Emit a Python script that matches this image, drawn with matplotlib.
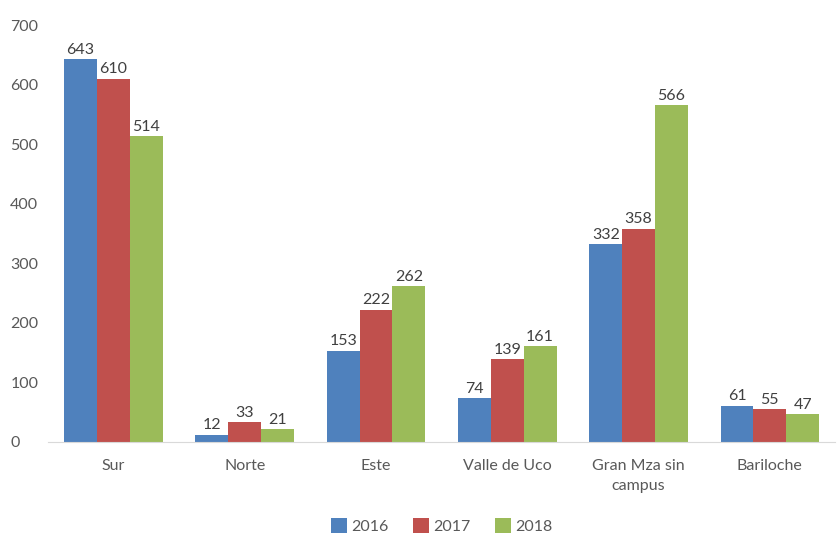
import matplotlib.pyplot as plt
import numpy as np

plt.rcParams['font.family'] = ['Lato', 'DejaVu Sans']

categories = ['Sur', 'Norte', 'Este', 'Valle de Uco', 'Gran Mza sin\ncampus', 'Bariloche']
years = ['2016', '2017', '2018']
v2016 = [643, 12, 153, 74, 332, 61]
v2017 = [610, 33, 222, 139, 358, 55]
v2018 = [514, 21, 262, 161, 566, 47]
colors = ['#4F81BD', '#C0504D', '#9BBB59']

fig = plt.figure(figsize=(8.38, 5.37), dpi=100)
ax = fig.add_axes([0.057, 0.177, 0.94, 0.776])

x = np.arange(len(categories))
w = 0.25
for i, (vals, lab) in enumerate(zip([v2016, v2017, v2018], years)):
    bars = ax.bar(x + (i - 1) * w, vals, w, color=colors[i], label=lab)
    for b, v in zip(bars, vals):
        ax.text(b.get_x() + w / 2, v + 4, str(v), ha='center', va='bottom',
                fontsize=11.5, color='#404040')

ax.set_xlim(-0.5, len(categories) - 0.5)
ax.set_ylim(0, 700)
ax.set_yticks(range(0, 701, 100))
ax.set_xticks(x)
ax.set_xticklabels(categories, fontsize=11.5, color='#595959', linespacing=1.6)
for s in ['top', 'right', 'left']:
    ax.spines[s].set_visible(False)
ax.spines['bottom'].set_color('#d9d9d9')
ax.tick_params(axis='both', length=0, labelsize=11.5, labelcolor='#595959')
ax.tick_params(axis='x', pad=12)
for t in ax.get_yticklabels():
    t.set_horizontalalignment('left')
ax.tick_params(axis='y', pad=27)

ax.legend(loc='lower center', bbox_to_anchor=(0.5, -0.255), ncol=3, frameon=False,
          fontsize=11.5, handlelength=1.0, handleheight=1.0, handletextpad=0.3,
          columnspacing=1.5, labelcolor='#595959')

plt.savefig('out.png', dpi=100)
